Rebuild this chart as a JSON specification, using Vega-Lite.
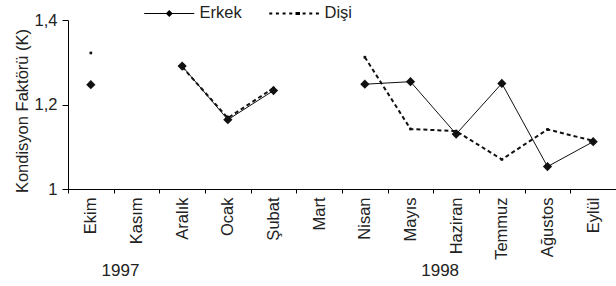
{
  "$schema": "https://vega.github.io/schema/vega-lite/v6.json",
  "width": 548,
  "height": 169,
  "autosize": {"type": "none"},
  "padding": {"left": 68, "top": 20, "right": 0, "bottom": 97},
  "background": "white",
  "config": {
    "view": {"stroke": null},
    "font": "Liberation Sans",
    "axis": {"grid": false, "domainColor": "#000", "tickColor": "#000", "labelColor": "#222", "titleColor": "#222", "labelFont": "Liberation Sans", "titleFont": "Liberation Sans"},
    "legend": {"labelFont": "Liberation Sans", "labelColor": "#222"}
  },
  "data": {
    "values": [
      {"month": "Ekim", "series": "Erkek", "value": 1.247},
      {"month": "Kasım", "series": "Erkek", "value": null},
      {"month": "Aralık", "series": "Erkek", "value": 1.291},
      {"month": "Ocak", "series": "Erkek", "value": 1.164},
      {"month": "Şubat", "series": "Erkek", "value": 1.233},
      {"month": "Mart", "series": "Erkek", "value": null},
      {"month": "Nisan", "series": "Erkek", "value": 1.248},
      {"month": "Mayıs", "series": "Erkek", "value": 1.254},
      {"month": "Haziran", "series": "Erkek", "value": 1.130},
      {"month": "Temmuz", "series": "Erkek", "value": 1.250},
      {"month": "Ağustos", "series": "Erkek", "value": 1.053},
      {"month": "Eylül", "series": "Erkek", "value": 1.112},
      {"month": "Ekim", "series": "Dişi", "value": 1.322},
      {"month": "Kasım", "series": "Dişi", "value": null},
      {"month": "Aralık", "series": "Dişi", "value": 1.289},
      {"month": "Ocak", "series": "Dişi", "value": 1.168},
      {"month": "Şubat", "series": "Dişi", "value": 1.239},
      {"month": "Mart", "series": "Dişi", "value": null},
      {"month": "Nisan", "series": "Dişi", "value": 1.312},
      {"month": "Mayıs", "series": "Dişi", "value": 1.142},
      {"month": "Haziran", "series": "Dişi", "value": 1.137},
      {"month": "Temmuz", "series": "Dişi", "value": 1.070},
      {"month": "Ağustos", "series": "Dişi", "value": 1.141},
      {"month": "Eylül", "series": "Dişi", "value": 1.114}
    ]
  },
  "encoding": {
    "y": {
      "field": "value",
      "type": "quantitative",
      "scale": {"domain": [1, 1.4], "nice": false, "zero": false},
      "axis": {"title": "Kondisyon Faktörü (K)", "values": [1, 1.2, 1.4], "labelExpr": "replace(format(datum.value, '~g'), '.', ',')", "labelFontSize": 16.5, "tickSize": 6, "labelPadding": 5, "titleFontSize": 16.5, "titleFontWeight": "normal", "titleX": -46, "titleY": 90.5, "titleAngle": -90, "titleAlign": "center", "titleBaseline": "middle"}
    }
  },
  "resolve": {"axis": {"x": "independent"}},
  "layer": [
    {
      "transform": [{"filter": "datum.series == 'Erkek'"}],
      "mark": {"type": "line", "color": "#111", "strokeWidth": 1, "invalid": "break-paths-show-domains"},
      "encoding": {
        "x": {
          "field": "month",
          "type": "nominal",
          "sort": null,
          "scale": {"domain": ["Ekim", "Kasım", "Aralık", "Ocak", "Şubat", "Mart", "Nisan", "Mayıs", "Haziran", "Temmuz", "Ağustos", "Eylül"], "paddingInner": 0, "paddingOuter": 0},
          "axis": {"title": null, "labelAngle": -90, "labelFontSize": 16.5, "tickBand": "extent", "tickSize": 4, "labelPadding": 4, "domainWidth": 1}
        }
      }
    },
    {
      "transform": [{"filter": "datum.series == 'Dişi'"}],
      "mark": {"type": "line", "color": "#111", "strokeWidth": 2, "strokeDash": [4, 3], "invalid": "break-paths-show-domains"},
      "encoding": {"x": {"field": "month", "type": "nominal", "sort": null, "axis": null}}
    },
    {
      "transform": [{"filter": "datum.series == 'Erkek'"}],
      "mark": {"type": "point", "shape": "diamond", "filled": true, "color": "#111", "size": 85, "opacity": 1},
      "encoding": {"x": {"field": "month", "type": "nominal", "sort": null, "axis": null}}
    },
    {
      "transform": [{"filter": "datum.series == 'Dişi'"}],
      "mark": {"type": "point", "shape": "square", "filled": true, "color": "#111", "size": 7, "opacity": 1},
      "encoding": {
        "x": {
          "field": "month",
          "type": "nominal",
          "sort": null,
          "axis": {"title": null, "orient": "bottom", "offset": 78, "domain": false, "ticks": false, "tickSize": 0, "labelPadding": 3, "labelAngle": 0, "labelAlign": "center", "labelBaseline": "middle", "labelFontSize": 17, "labelOverlap": false, "labelOffset": -16, "labelExpr": "datum.value == 'Kasım' ? '1997' : (datum.value == 'Haziran' ? '1998' : '')"}
        }
      }
    },
    {
      "mark": {"type": "point", "filled": true, "color": "#000", "size": 100, "opacity": 0},
      "encoding": {
        "x": {"field": "month", "type": "nominal", "sort": null, "axis": null},
        "shape": {
          "field": "series",
          "type": "nominal",
          "scale": {
            "domain": ["Erkek", "Dişi"],
            "range": [
              "M-1,-0.1H9V0.1H-1Z M4,-0.7L4.7,0L4,0.7L3.3,0Z",
              "M-1,-0.2h0.6v0.4h-0.6Z M0.33,-0.2h0.6v0.4h-0.6Z M1.67,-0.2h0.6v0.4h-0.6Z M3,-0.2h0.6v0.4h-0.6Z M4.25,-0.3h0.9v0.6h-0.9Z M5.67,-0.2h0.6v0.4h-0.6Z M7,-0.2h0.6v0.4h-0.6Z M8.33,-0.2h0.6v0.4h-0.6Z"
            ]
          },
          "legend": {"title": null, "orient": "none", "legendX": 73, "legendY": -15, "direction": "horizontal", "symbolOpacity": 1, "symbolFillColor": "#000", "symbolStrokeWidth": 0, "symbolSize": 100, "labelFontSize": 16.5, "labelOffset": 42, "columnPadding": 24}
        }
      }
    }
  ]
}
